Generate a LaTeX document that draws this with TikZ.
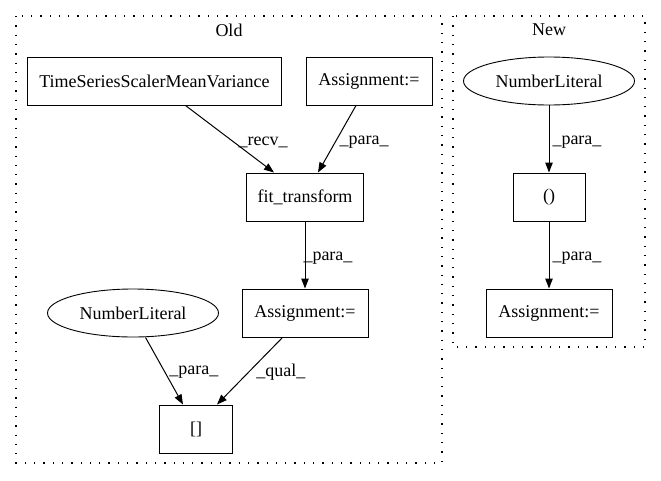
\documentclass[tikz,border=0pt]{standalone}
\usepackage{fontspec}
\setmainfont{Liberation Serif}
\usetikzlibrary{arrows.meta,shapes.geometric}
\begin{document}
\begin{tikzpicture}[x=1pt,y=-1pt,
  every node/.style={font=\fontsize{18}{21}\selectfont},
  box/.style={draw,line width=1pt,rectangle,minimum height=48pt,inner sep=0pt},
  ell/.style={draw,line width=0.9pt,ellipse,minimum height=48pt,minimum width=171pt,inner sep=0pt},
  cluster/.style={draw,line width=1.3pt,dash pattern=on 1.3pt off 8pt},
  edge/.style={draw,line width=1pt,-{Triangle[length=10pt,width=7.5pt]}},
  lbl/.style={anchor=west,inner sep=0pt}]
\useasboundingbox (0,0) rectangle (661,480);
\draw[cluster] (16,16) rectangle (442,463);
\draw[cluster] (453,16) rectangle (645,347);
\node (oldlabel) at (229,30) {Old};
\node (newlabel) at (549,30) {New};
% Old
\node[box,minimum width=254pt] (ts) at (154.5,81) {TimeSeriesScalerMeanVariance};
\node[box,minimum width=126pt] (a1) at (369,81) {Assignment:=};
\node[box,minimum width=117pt] (fit) at (305,197) {fit\_transform};
\node[box,minimum width=126pt] (a2) at (305,313) {Assignment:=};
\node[ell] (nlo) at (133,313) {NumberLiteral};
\node[box,minimum width=73pt] (br) at (196,429) {[]};
% New
\node[ell] (nln) at (549,81) {NumberLiteral};
\node[box,minimum width=72pt] (par) at (549,197) {()};
\node[box,minimum width=126pt] (a3) at (549,313) {Assignment:=};
% edges
\draw[edge] ([xshift=31pt]ts.south) -- node[lbl,pos=0.55,xshift=4pt] {\_recv\_} ([xshift=-31pt]fit.north);
\draw[edge] ([xshift=-13pt]a1.south) -- node[lbl,pos=0.55,xshift=4pt] {\_para\_} ([xshift=13pt]fit.north);
\draw[edge] (fit.south) -- node[lbl,pos=0.54,xshift=-2pt] {\_para\_} (a2.north);
\draw[edge] ([xshift=12.5pt]nlo.south) -- node[lbl,pos=0.515,xshift=4pt] {\_para\_} ([xshift=-13pt]br.north);
\draw[edge] ([xshift=-22.5pt]a2.south) -- node[lbl,pos=0.515,xshift=7pt] {\_qual\_} ([xshift=21pt]br.north);
\draw[edge] (nln.south) -- node[lbl,pos=0.55,xshift=3pt] {\_para\_} (par.north);
\draw[edge] (par.south) -- node[lbl,pos=0.54,xshift=3pt] {\_para\_} (a3.north);
\end{tikzpicture}
\end{document}
